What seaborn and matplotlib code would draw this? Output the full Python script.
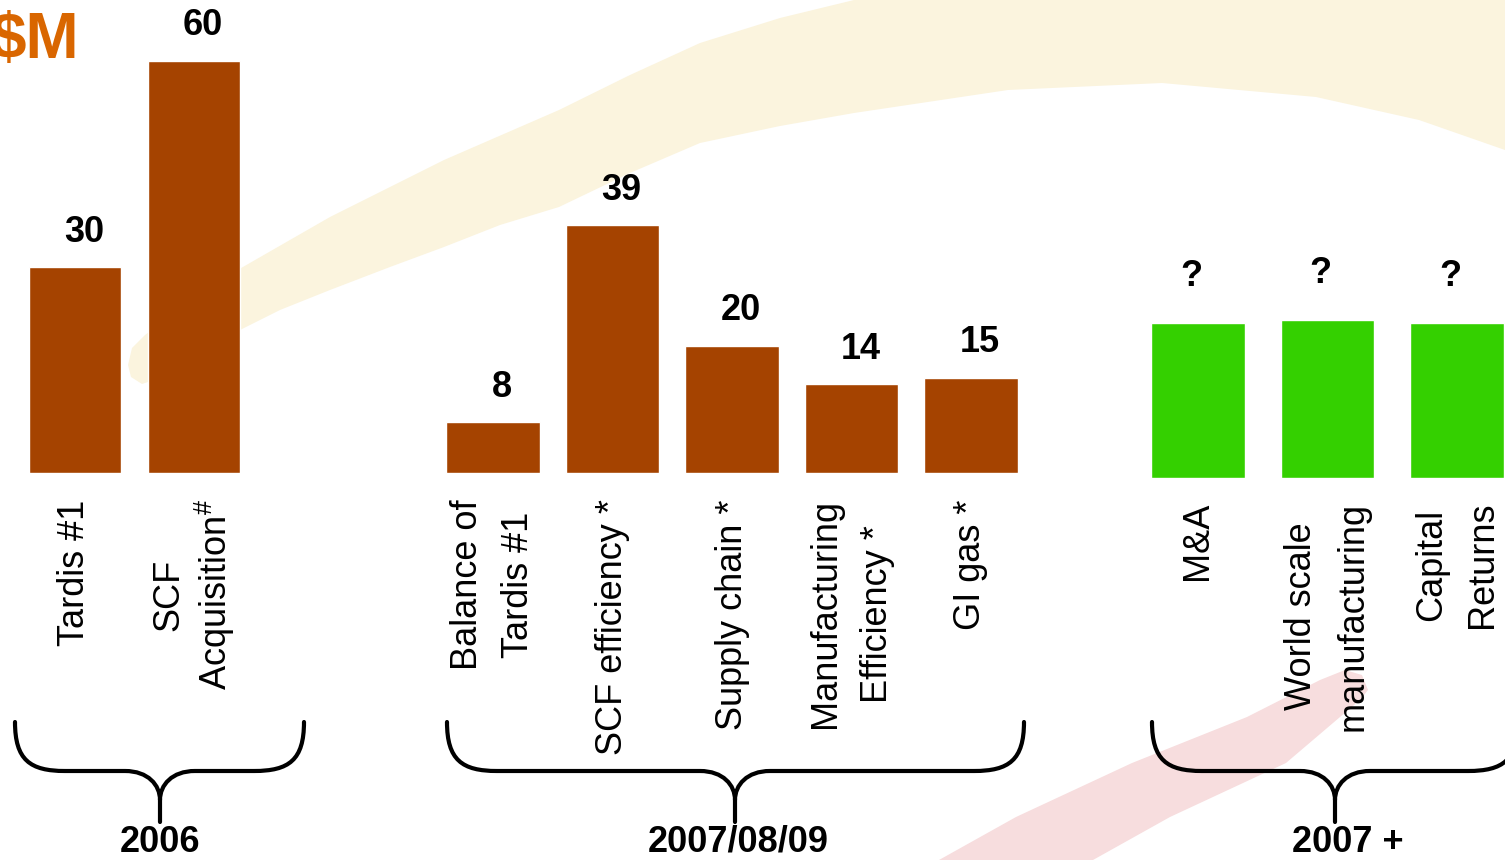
import matplotlib
matplotlib.use("Agg")
import matplotlib.pyplot as plt
from matplotlib.path import Path
from matplotlib.patches import PathPatch, Polygon
import seaborn as sns

# ---------------- data ----------------
cats_2006 = ["Tardis #1", "SCF\nAcquisition$^{\\#}$"]
vals_2006 = [30, 60]

cats_0709 = ["Balance of\nTardis #1", "SCF efficiency *", "Supply chain *",
             "Manufacturing\nEfficiency *", "GI gas *"]
vals_0709 = [8, 39, 20, 14, 15]

cats_future = ["M&A", "World scale\nmanufacturing", "Capital\nReturns"]
# values not disclosed in the source (labelled "?"); bar heights as drawn
vals_future = [24.4, 24.8, 24.4]
labels_future = ["?", "?", "?"]

period_labels = ["2006", "2007/08/09", "2007 +"]
unit_label = "$M"

# ---------------- style ----------------
sns.set_theme(style="white")
plt.rcParams["font.family"] = ["Liberation Sans", "DejaVu Sans"]
plt.rcParams["mathtext.fontset"] = "custom"
plt.rcParams["mathtext.rm"] = "Liberation Sans"
plt.rcParams["mathtext.it"] = "Liberation Sans:italic"
plt.rcParams["mathtext.bf"] = "Liberation Sans:bold"

BROWN = "#A54300"
GREEN = "#34D000"
ORANGE = "#D96600"
YELLOW_BG = "#FBF4DE"
PINK_BG = "#F7DDDE"

W, H = 1505, 860
fig = plt.figure(figsize=(W / 100, H / 100), dpi=100)
fig.patch.set_facecolor("white")

# ---------------- decorative background swooshes ----------------
bg = fig.add_axes([0, 0, 1, 1], zorder=-2)
bg.set_xlim(0, W)
bg.set_ylim(H, 0)
bg.axis("off")
yellow_shape = [(128, 365), (132, 348), (145, 335), (215, 283), (330, 217), (444, 160),
                (559, 110), (630, 75), (700, 43), (780, 18), (854, 0), (870, -10),
                (1520, -10), (1520, 152), (1505, 150), (1419, 120), (1316, 97),
                (1162, 83), (1008, 90), (854, 113), (780, 126), (700, 143), (630, 173),
                (559, 207), (500, 225), (444, 247), (390, 267), (330, 290), (280, 310),
                (234, 333), (190, 358), (160, 378), (142, 384), (131, 377)]
pink_shape = [(925, 870), (939, 860), (1016, 817), (1132, 763), (1247, 717), (1320, 680),
              (1345, 670), (1362, 675), (1368, 690), (1360, 700), (1286, 763),
              (1170, 817), (1093, 860), (1080, 870)]
bg.add_patch(Polygon(yellow_shape, closed=True, facecolor=YELLOW_BG, edgecolor="none"))
bg.add_patch(Polygon(pink_shape, closed=True, facecolor=PINK_BG, edgecolor="none"))


# ---------------- bar panels ----------------
def bar_panel(left_px, width_px, base_px, cats, vals, color, bar_width,
              px_per_unit, texts, label_pad, label_dx, tick_pad):
    ax = fig.add_axes([left_px / W, 1 - base_px / H, width_px / W, base_px / H])
    sns.barplot(x=cats, y=vals, order=cats, color=color, saturation=1,
                width=bar_width, errorbar=None, ax=ax)
    ax.set_xlim(-0.5, len(cats) - 0.5)
    ax.set_ylim(0, base_px / px_per_unit)
    ax.patch.set_alpha(0)
    for s in ax.spines.values():
        s.set_visible(False)
    ax.set_yticks([])
    ax.set_xlabel("")
    ax.set_ylabel("")
    ax.set_xticks(range(len(cats)), labels=cats, rotation=90, fontsize=26,
                  linespacing=1.6, color="black")
    for t in ax.get_xticklabels():
        if "$" in t.get_text():
            t.set_linespacing(1.2)
    ax.tick_params(axis="x", length=0, pad=tick_pad)
    anns = ax.bar_label(ax.containers[0], labels=texts, padding=label_pad,
                        fontsize=26, fontweight="bold", color="black")
    for a in anns:
        a.xyann = (label_dx, label_pad)
    return ax


bar_panel(15.5, 238, 473, cats_2006, vals_2006, BROWN, 0.77, 6.87,
          [str(v) for v in vals_2006], 12.5, 6.5, 19)
bar_panel(433.25, 597.5, 473, cats_0709, vals_0709, BROWN, 0.78, 6.36,
          [str(v) for v in vals_0709], 12.5, 6.5, 19)
bar_panel(1133.25, 388.5, 478, cats_future, vals_future, GREEN, 0.72, 6.36,
          labels_future, 21, -5, 17)

# ---------------- braces and period labels ----------------
ov = fig.add_axes([0, 0, 1, 1], zorder=5)
ov.set_xlim(0, W)
ov.set_ylim(H, 0)
ov.axis("off")
ov.patch.set_alpha(0)

brace_spans = [(15, 160, 304), (447, 735, 1024), (1152, 1335, 1518)]
label_x = [160, 738, 1348]
Y_TOP, Y_MID, Y_JOIN, Y_TIP = 722, 771, 800, 822

for (x0, xc, x1), lab, lx in zip(brace_spans, period_labels, label_x):
    verts = [(x0, Y_TOP), (x0, 760), (x0 + 15, Y_MID), (x0 + 50, Y_MID),
             (xc - 35, Y_MID), (xc - 12, Y_MID), (xc, 785), (xc, Y_JOIN),
             (xc, Y_TIP),
             (xc, Y_JOIN), (xc, 785), (xc + 12, Y_MID), (xc + 35, Y_MID),
             (x1 - 50, Y_MID), (x1 - 15, Y_MID), (x1, 760), (x1, Y_TOP)]
    codes = [Path.MOVETO, Path.CURVE4, Path.CURVE4, Path.CURVE4,
             Path.LINETO, Path.CURVE4, Path.CURVE4, Path.CURVE4,
             Path.LINETO,
             Path.MOVETO, Path.CURVE4, Path.CURVE4, Path.CURVE4,
             Path.LINETO, Path.CURVE4, Path.CURVE4, Path.CURVE4]
    ov.add_patch(PathPatch(Path(verts, codes), facecolor="none", edgecolor="black",
                           lw=3, capstyle="round", joinstyle="round"))
    ov.text(lx, 852, lab, ha="center", va="baseline", fontsize=26,
            fontweight="bold", color="black")

ov.text(-10, 58, unit_label, ha="left", va="baseline", fontsize=46,
        fontweight="bold", color=ORANGE)

fig.savefig("out.png", dpi=100, facecolor="white")
